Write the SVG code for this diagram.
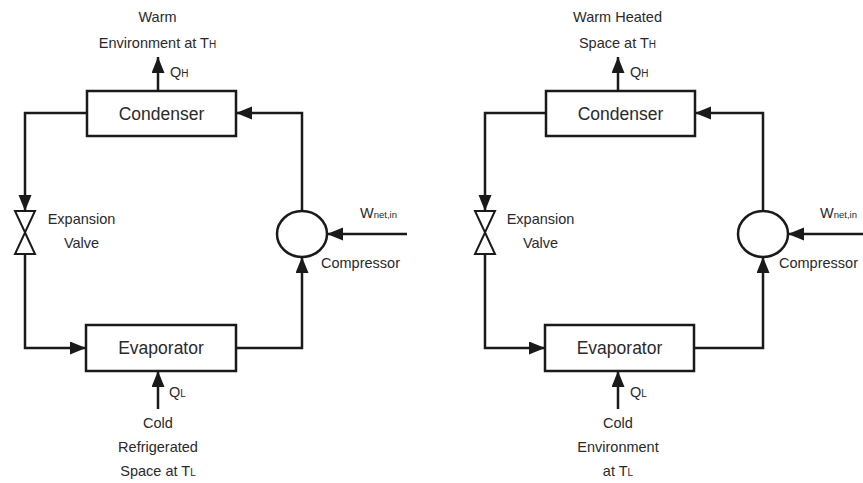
<svg xmlns="http://www.w3.org/2000/svg" width="863" height="483" viewBox="0 0 863 483">
<style>
  .box { fill: #fff; stroke: #1a1a1a; stroke-width: 2.5; }
  .valve { fill: #fff; stroke: #1a1a1a; stroke-width: 2; stroke-linejoin: miter; }
  .line { fill: none; stroke: #1a1a1a; stroke-width: 2.5; }
  .arr { marker-end: url(#ah); }
  text { font-family: "Liberation Sans", Arial, Helvetica, sans-serif; fill: #2a2a2a; }
  .big { font-size: 17.5px; text-anchor: middle; }
  .lbl { font-size: 14.5px; }
  .mid { text-anchor: middle; }
  .sub { font-size: 10px; }
</style>
<defs>
  <marker id="ah" markerUnits="userSpaceOnUse" markerWidth="18" markerHeight="14" refX="16" refY="6.5" orient="auto">
    <path d="M0,0 L16,6.5 L0,13 Z" fill="#1a1a1a"/>
  </marker>
</defs>

<g id="connectors">
  <!-- left cycle -->
  <polyline class="line arr" points="87,113 25,113 25,211"/>
  <polyline class="line arr" points="25,254 25,348 86,348"/>
  <polyline class="line arr" points="236,348 302,348 302,257"/>
  <polyline class="line arr" points="302,211 302,113 236,113"/>
  <line class="line arr" x1="158" y1="91" x2="158" y2="57"/>
  <line class="line arr" x1="158" y1="409" x2="158" y2="371"/>
  <line class="line arr" x1="407" y1="234" x2="327" y2="234"/>
  <!-- right cycle -->
  <polyline class="line arr" points="546,113 485,113 485,211"/>
  <polyline class="line arr" points="485,254 485,348 545,348"/>
  <polyline class="line arr" points="694,348 763,348 763,257"/>
  <polyline class="line arr" points="763,211 763,113 695,113"/>
  <line class="line arr" x1="618" y1="91" x2="618" y2="57"/>
  <line class="line arr" x1="618" y1="409" x2="618" y2="371"/>
  <line class="line arr" x1="863" y1="234" x2="788" y2="234"/>
</g>

<!-- Left diagram: refrigerator -->
<g id="left-condenser">
  <rect class="box" x="87" y="91" width="149" height="45"/>
  <text class="big" x="161.5" y="120">Condenser</text>
</g>
<g id="left-evaporator">
  <rect class="box" x="86" y="325" width="150" height="46"/>
  <text class="big" x="161" y="354">Evaporator</text>
</g>
<g id="left-valve">
  <polygon class="valve" points="15,211 35,211 25,232.5"/>
  <polygon class="valve" points="25,232.5 35,254 15,254"/>
  <text class="lbl mid" x="81.5" y="224">Expansion</text>
  <text class="lbl mid" x="81.5" y="248">Valve</text>
</g>
<g id="left-compressor">
  <ellipse class="box" cx="302" cy="234" rx="25" ry="23"/>
  <text class="lbl" x="321" y="268">Compressor</text>
</g>
<g id="left-labels">
  <text class="lbl mid" x="157.5" y="22">Warm</text>
  <text class="lbl mid" x="157.5" y="48">Environment at T<tspan class="sub">H</tspan></text>
  <text class="lbl" x="170" y="77">Q<tspan class="sub">H</tspan></text>
  <text class="lbl" x="169" y="397">Q<tspan class="sub">L</tspan></text>
  <text class="lbl mid" x="158" y="428">Cold</text>
  <text class="lbl mid" x="158" y="452">Refrigerated</text>
  <text class="lbl mid" x="158" y="476">Space at T<tspan class="sub">L</tspan></text>
  <text class="lbl" x="360" y="218" font-size="14">W<tspan font-size="9.5">net,in</tspan></text>
</g>

<!-- Right diagram: heat pump -->
<g id="right-condenser">
  <rect class="box" x="546" y="91" width="149" height="45"/>
  <text class="big" x="620.5" y="120">Condenser</text>
</g>
<g id="right-evaporator">
  <rect class="box" x="545" y="325" width="149" height="46"/>
  <text class="big" x="619.5" y="354">Evaporator</text>
</g>
<g id="right-valve">
  <polygon class="valve" points="475,211 495,211 485,232.5"/>
  <polygon class="valve" points="485,232.5 495,254 475,254"/>
  <text class="lbl mid" x="540.5" y="224">Expansion</text>
  <text class="lbl mid" x="540.5" y="248">Valve</text>
</g>
<g id="right-compressor">
  <ellipse class="box" cx="763" cy="234" rx="25" ry="23"/>
  <text class="lbl" x="779" y="268">Compressor</text>
</g>
<g id="right-labels">
  <text class="lbl mid" x="617.5" y="22">Warm Heated</text>
  <text class="lbl mid" x="617.5" y="48">Space at T<tspan class="sub">H</tspan></text>
  <text class="lbl" x="630" y="77">Q<tspan class="sub">H</tspan></text>
  <text class="lbl" x="630" y="397">Q<tspan class="sub">L</tspan></text>
  <text class="lbl mid" x="618" y="428">Cold</text>
  <text class="lbl mid" x="618" y="452">Environment</text>
  <text class="lbl mid" x="618" y="476">at T<tspan class="sub">L</tspan></text>
  <text class="lbl" x="820" y="218" font-size="14">W<tspan font-size="9.5">net,in</tspan></text>
</g>
</svg>
